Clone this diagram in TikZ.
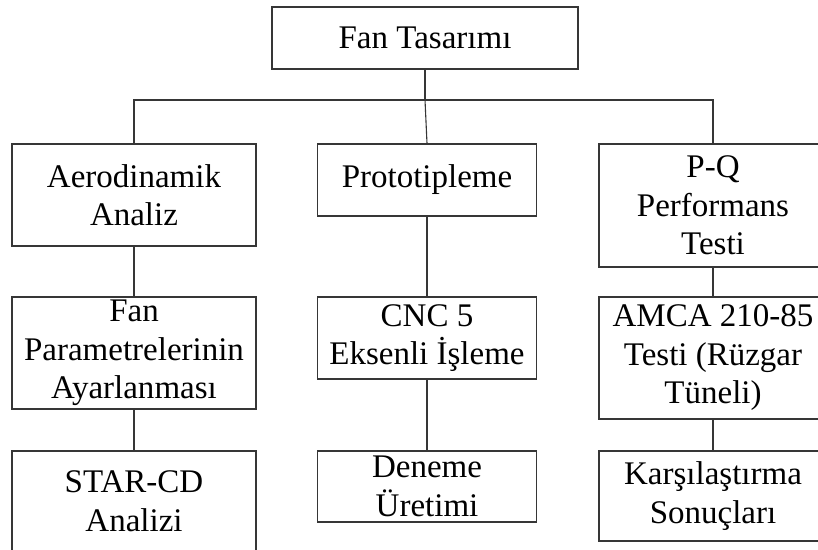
\documentclass[tikz,border=0pt]{standalone}
\usepackage{fontspec}
\setmainfont{Liberation Serif}
\definecolor{edge}{HTML}{363636}
\begin{document}
\begin{tikzpicture}[x=1pt,y=-1pt,
  box/.style={draw=edge, line width=1.1pt, rectangle, inner sep=0pt,
    align=center, font=\fontsize{33}{38.5}\selectfont},
  link/.style={draw=edge, line width=1.1pt}]
\clip (0,0) rectangle (818,549);
\fill[white] (0,0) rectangle (818,549);

% top level
\node[box, minimum width=306, minimum height=62] (top) at (425,38) {Fan Tasarımı};

% first row
\node[box, minimum width=244, minimum height=102] (aero) at (134,195) {Aerodinamik\\Analiz};
\node[box, minimum width=219, minimum height=72] (proto) at (427,180) {Prototipleme};
\node[box, minimum width=228, minimum height=123] (pq) at (713,205.5) {P-Q\\Performans\\Testi};

% second row
\node[box, minimum width=244, minimum height=112] (fanp) at (134,353) {Fan\\Parametrelerinin\\Ayarlanması};
\node[box, minimum width=219, minimum height=82] (cnc) at (427,338) {CNC 5\\Eksenli İşleme};
\node[box, minimum width=228, minimum height=122] (amca) at (713,358) {AMCA 210-85\\Testi (Rüzgar\\Tüneli)};

% third row
\node[box, minimum width=244, minimum height=100] (star) at (134,501) {STAR-CD\\Analizi};
\node[box, minimum width=219, minimum height=71] (deneme) at (427,486.5) {Deneme\\Üretimi};
\node[box, minimum width=228, minimum height=90] (kars) at (713,496) {Karşılaştırma\\Sonuçları};

% branching bus under the top box
\coordinate (bus) at (425,100);
\draw[link] (top.south) -- (bus);
\draw[link] (aero.north) |- (bus) -| (pq.north);
\draw[link] (bus) -- (proto.north);

% column chains
\draw[link] (aero.south) -- (fanp.north);
\draw[link] (fanp.south) -- (star.north);
\draw[link] (proto.south) -- (cnc.north);
\draw[link] (cnc.south) -- (deneme.north);
\draw[link] (pq.south) -- (amca.north);
\draw[link] (amca.south) -- (kars.north);
\end{tikzpicture}
\end{document}
